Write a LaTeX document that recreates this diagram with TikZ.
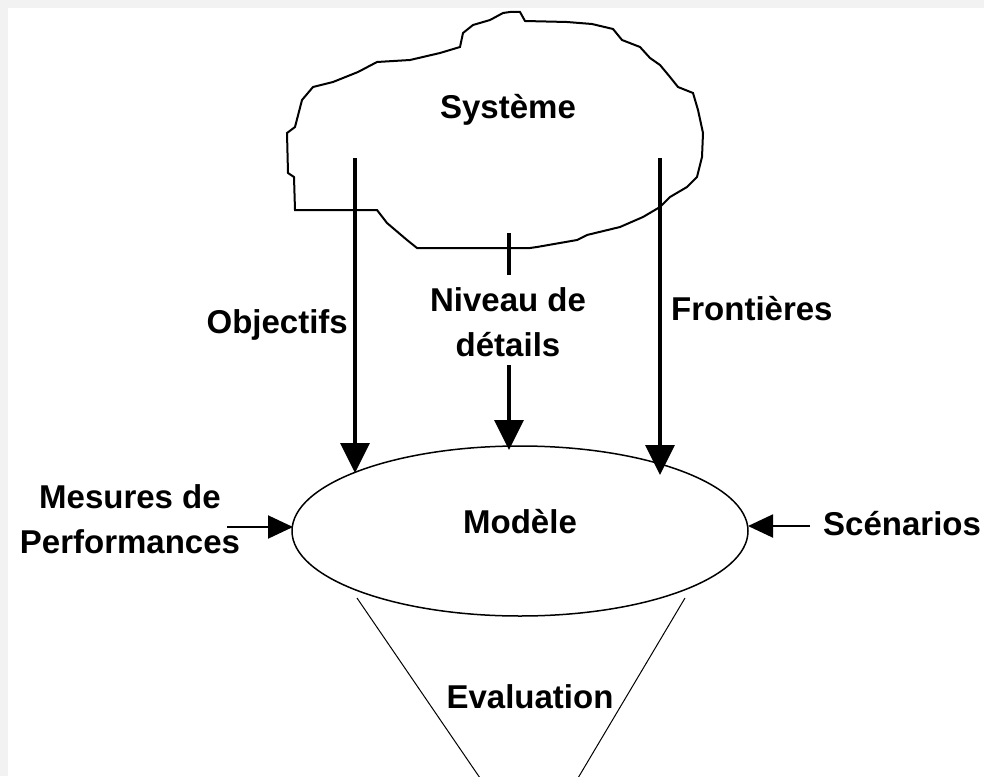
\documentclass[tikz,border=0pt]{standalone}
\usepackage{fontspec}
\setmainfont{Liberation Sans}
\usetikzlibrary{arrows.meta,shapes.geometric}
\begin{document}
\begin{tikzpicture}[x=1pt,y=-1pt,
  lbl/.style={font=\fontsize{33}{45}\selectfont\bfseries, inner sep=0pt, text=black},
  cloudline/.style={draw=black, line width=2pt, line join=miter},
  bigarrow/.style={line width=3.2pt, -{Triangle[length=30pt,width=29pt]}},
  sidearrow/.style={line width=2pt, -{Triangle[length=25pt,width=23pt]}},
  plainline/.style={line width=3.2pt},
  funnel/.style={line width=1pt}]
  % canvas and faint edge strip
  \useasboundingbox (0,0) rectangle (984,776);
  \fill[white] (0,0) rectangle (984,776);
  \fill[black!5] (0,0) rectangle (8,776);
  \fill[black!5] (0,0) rectangle (984,8);

  % the system cloud
  \draw[cloudline] (503,13) -- (510,12) -- (520,12) -- (525,21) -- (567,22) -- (592,24)
    -- (613,29) -- (622,40) -- (640,47) -- (650,58) -- (660,65) -- (670,77)
    -- (678,87) -- (693,93) -- (698,110) -- (703,133) -- (702,157) -- (697,177)
    -- (687,187) -- (670,197) -- (660,207) -- (643,217) -- (620,227) -- (587,235)
    -- (577,240) -- (537,247) -- (530,248) -- (417,248) -- (407,240) -- (387,223)
    -- (377,210) -- (295,210) -- (294,177) -- (288,173) -- (287,133) -- (295,127)
    -- (302,100) -- (313,87) -- (333,82) -- (358,72) -- (377,62) -- (410,60)
    -- (440,53) -- (460,47) -- (463,33) -- (473,25) -- (490,20) -- cycle;
  \node[lbl, anchor=base] (systeme) at (508,118) {Système};

  % the model
  \node[ellipse, draw=black, line width=1.5pt, minimum width=456pt, minimum height=170pt,
        inner sep=0pt] (modele) at (520,531) {};
  \node[lbl, anchor=base] (modeletxt) at (520,533) {Modèle};

  % connector end points
  \coordinate (sysL) at (355,158);
  \coordinate (sysR) at (660,158);
  \coordinate (sysM) at (509,233);
  \coordinate (tickEnd) at (509,275);
  \coordinate (detOut) at (509,365);
  \coordinate (tipL) at (355,473);
  \coordinate (tipR) at (660,475);
  \coordinate (tipM) at (509,450);
  \coordinate (perfOut) at (227,527);
  \coordinate (scenOut) at (810,526);
  \coordinate (modW) at (293,527);
  \coordinate (modE) at (748,526);

  % labels (two-line labels are placed by the baseline of their last line)
  \node[lbl, anchor=base east] (objectifs) at (348,333) {Objectifs};
  \node[lbl, anchor=base west] (frontieres) at (671,320) {Frontières};
  \node[lbl, anchor=base, align=center] (niveau) at (508,356) {Niveau de\\détails};
  \node[lbl, anchor=base, align=center] (mesures) at (130,553) {Mesures de\\Performances};
  \node[lbl, anchor=base west] (scenarios) at (823,535) {Scénarios};
  \node[lbl, anchor=base] (evaluation) at (530,708) {Evaluation};

  % influences on the model
  \draw[bigarrow] (sysL) -- (tipL);
  \draw[bigarrow] (sysR) -- (tipR);
  \draw[plainline] (sysM) -- (tickEnd);
  \draw[bigarrow] (detOut) -- (tipM);
  \draw[sidearrow] (perfOut) -- (modW);
  \draw[sidearrow] (scenOut) -- (modE);

  % evaluation funnel
  \coordinate (funL1) at (357,598);
  \coordinate (funL2) at (480,778);
  \coordinate (funR1) at (685,598);
  \coordinate (funR2) at (578,778);
  \draw[funnel] (funL1) -- (funL2);
  \draw[funnel] (funR1) -- (funR2);
\end{tikzpicture}
\end{document}
